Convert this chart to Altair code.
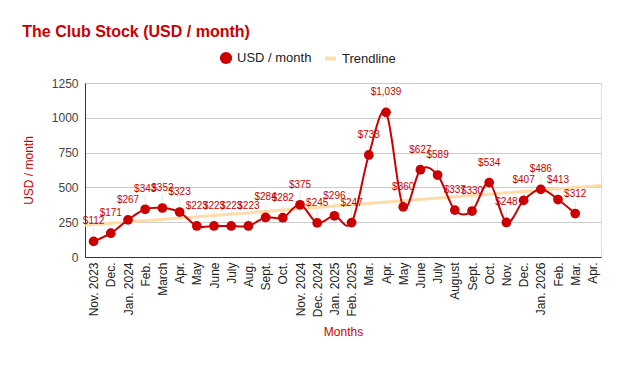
import json
import altair as alt
import pandas as pd

months = ["Nov. 2023", "Dec.", "Jan. 2024", "Feb.", "March", "Apr.", "May", "June",
          "July", "Aug.", "Sept.", "Oct.", "Nov. 2024", "Dec. 2024", "Jan. 2025",
          "Feb. 2025", "Mar.", "Apr.", "May", "June", "July", "August", "Sept.",
          "Oct.", "Nov.", "Dec.", "Jan. 2026", "Feb.", "Mar.", "Apr."]
usd = [112, 171, 267, 343, 352, 323, 223, 223, 223, 223, 284, 282, 375, 245, 296,
       247, 733, 1039, 360, 627, 589, 337, 330, 534, 248, 407, 486, 413, 312, None]
y_ticks = [0, 250, 500, 750, 1000, 1250]

rows = [{"idx": i, "month": m, "usd": v, "series": "USD / month"}
        for i, (m, v) in enumerate(zip(months, usd)) if v is not None]
df = pd.DataFrame(rows)

RED = "#cc0000"
FONT = "Arial"
n = len(months)

x_enc = alt.X("idx:Q",
              scale=alt.Scale(domain=[-0.5, n - 0.5], nice=False, zero=False),
              axis=alt.Axis(values=list(range(n)),
                            labelExpr=json.dumps(months) + "[datum.value]",
                            labelAngle=-90, labelPadding=5, ticks=False, grid=False,
                            domainColor="#333333", labelColor="#222222",
                            labelFontSize=12, title="Months", titleColor=RED,
                            titleFontSize=12, titleFontWeight="normal",
                            titlePadding=10))
y_enc = alt.Y("usd:Q",
              scale=alt.Scale(domain=[0, 1250], nice=False),
              axis=alt.Axis(values=y_ticks, format="d", ticks=False,
                            gridColor="#cccccc", domainColor="#333333",
                            labelColor="#444444", labelFontSize=12, labelPadding=7,
                            title="USD / month", titleColor=RED, titleFontSize=12,
                            titleFontWeight="normal", titlePadding=16))

base = alt.Chart(df)

leaders = base.transform_calculate(top="datum.usd + 100").mark_rule(
    color="#e8e8e8", strokeWidth=1).encode(x=x_enc, y=y_enc, y2="top:Q")

trend = base.transform_regression("idx", "usd", extent=[-0.5, n - 0.5]).transform_calculate(
    series="'Trendline'").mark_line(strokeWidth=3).encode(
    x=x_enc, y=y_enc,
    stroke=alt.Stroke("series:N",
                      scale=alt.Scale(domain=["Trendline"], range=["#ffdca8"]),
                      legend=alt.Legend(orient="none", legendX=238, legendY=-32,
                                        title=None, labelFontSize=13,
                                        labelColor="#222222", labelFont=FONT,
                                        symbolStrokeWidth=4, symbolSize=120)))

line = base.mark_line(interpolate="cardinal", tension=0, color=RED,
                      strokeWidth=2).encode(x=x_enc, y=y_enc)

points = base.mark_circle(size=95, opacity=1).encode(
    x=x_enc, y=y_enc,
    fill=alt.Fill("series:N",
                  scale=alt.Scale(domain=["USD / month"], range=[RED]),
                  legend=alt.Legend(orient="none", legendX=134, legendY=-32,
                                    title=None, labelFontSize=13,
                                    labelColor="#222222", labelFont=FONT,
                                    symbolSize=150, symbolType="circle")))

labels = base.mark_text(dy=-17, baseline="alphabetic", fontSize=10, color=RED,
                        font=FONT).encode(
    x=x_enc, y=y_enc, text=alt.Text("usd:Q", format="$,d"))

chart = alt.layer(leaders, trend, line, points, labels).properties(
    width=516, height=174,
    autosize=alt.AutoSizeParams(type="none"),
    padding={"left": 77, "top": 75, "right": 9, "bottom": 106},
    title=alt.TitleParams("The Club Stock (USD / month)", anchor="start",
                          color=RED, fontSize=16, fontWeight="bold", font=FONT,
                          dx=0, offset=11),
).configure_view(stroke=None).configure(font=FONT).configure_axis(
    labelFont=FONT, titleFont=FONT)

chart.save("out.html", embed_options={"renderer": "svg", "actions": False})
